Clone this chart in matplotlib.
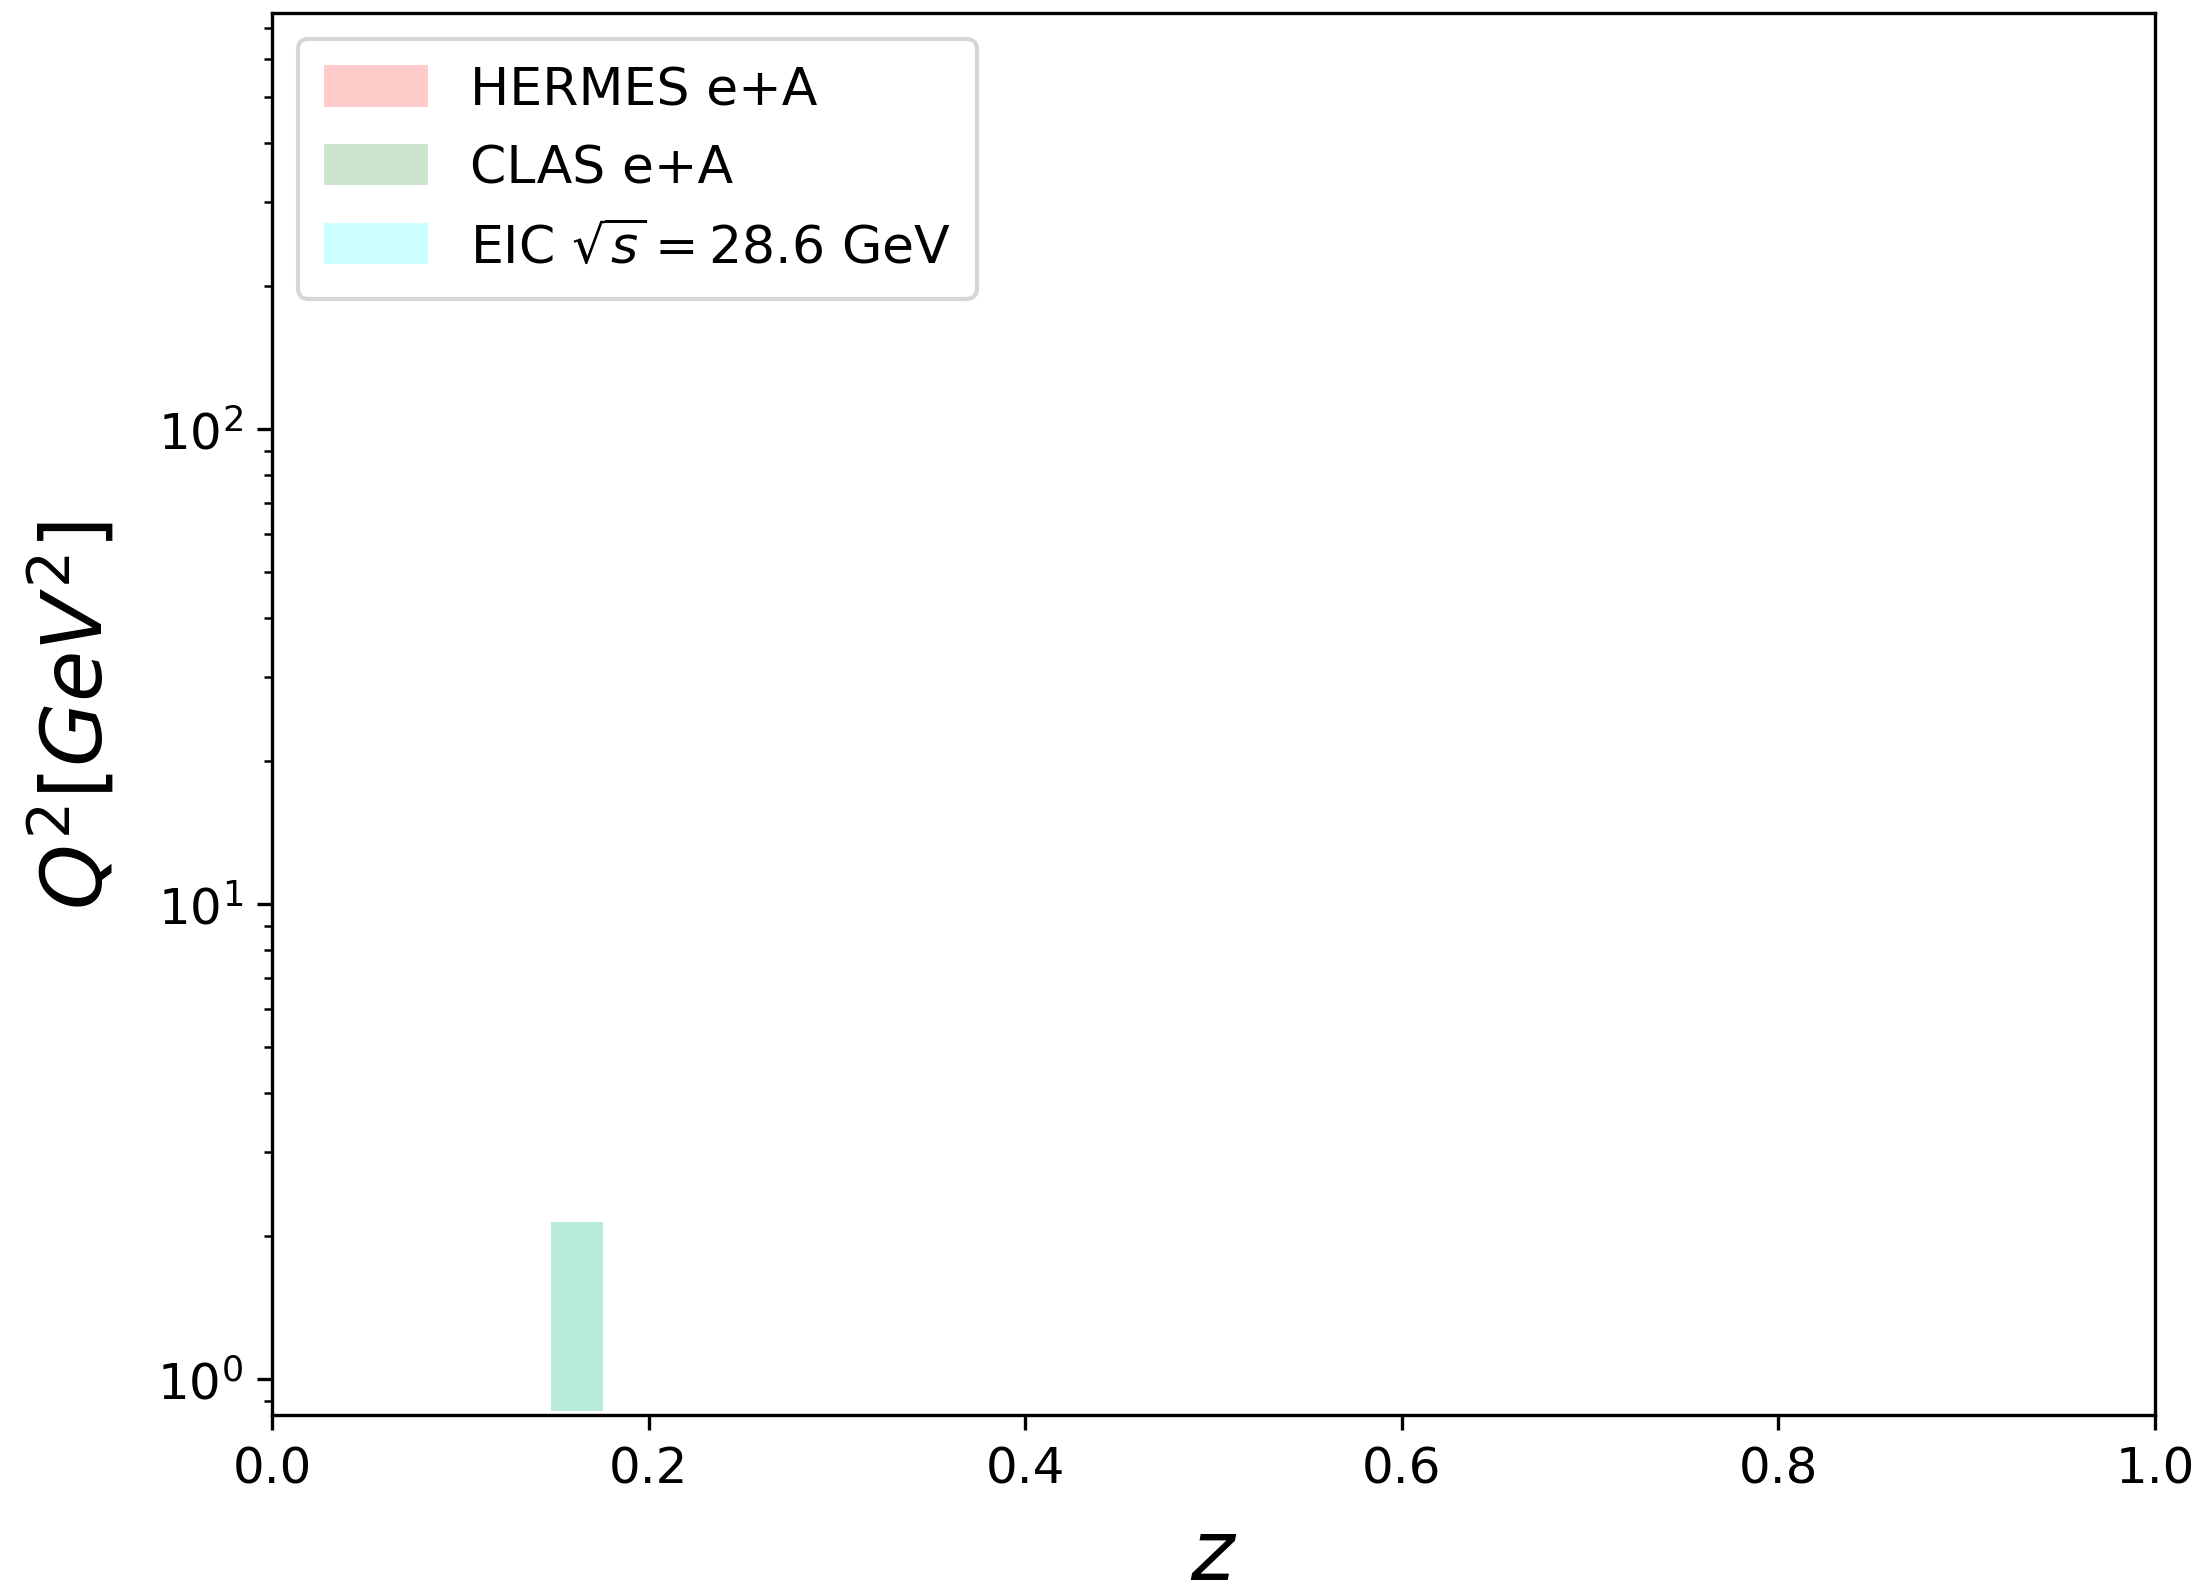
import numpy as np
import matplotlib.pyplot as plt
from matplotlib.patches import Patch

# kinematic coverage in (z, Q^2)
hermes_z = []
hermes_q2_lo = []
hermes_q2_hi = []

clas_z = [0.148, 0.176]
clas_q2_lo = [0.857, 0.857]
clas_q2_hi = [2.14, 2.14]

eic_z = [0.148, 0.176]
eic_q2_lo = [0.857, 0.857]
eic_q2_hi = [2.14, 2.14]

labels = ['HERMES e+A', 'CLAS e+A', r'EIC $\sqrt{s} = 28.6$ GeV']
colors = ['red', 'green', 'cyan']

fig = plt.figure(figsize=(2211 / 300, 1593 / 300), dpi=300)
ax = fig.add_axes([272 / 2211, 1 - 1416 / 1593, (2155 - 272) / 2211, (1416 - 14) / 1593])

ax.fill_between(hermes_z, hermes_q2_lo, hermes_q2_hi, color=colors[0], alpha=0.2, lw=0)
ax.fill_between(clas_z, clas_q2_lo, clas_q2_hi, color=colors[1], alpha=0.17, lw=0)
ax.fill_between(eic_z, eic_q2_lo, eic_q2_hi, color=colors[2], alpha=0.13, lw=0)

ax.set_yscale('log')
ax.set_xlim(0, 1)
ax.set_ylim(0.84, 751)
ax.tick_params(labelsize=12)
ax.set_xlabel(r'$z$', fontsize=20, labelpad=5.5)
ax.set_ylabel(r'$Q^2[GeV^2]$', fontsize=20, labelpad=9)

handles = [Patch(facecolor=c, alpha=0.2, lw=0) for c in colors]
ax.legend(handles, labels, loc='upper left', fontsize=12.5, borderpad=0.5,
          handleheight=0.85, labelspacing=0.55)

fig.savefig('out.png', dpi=300)
